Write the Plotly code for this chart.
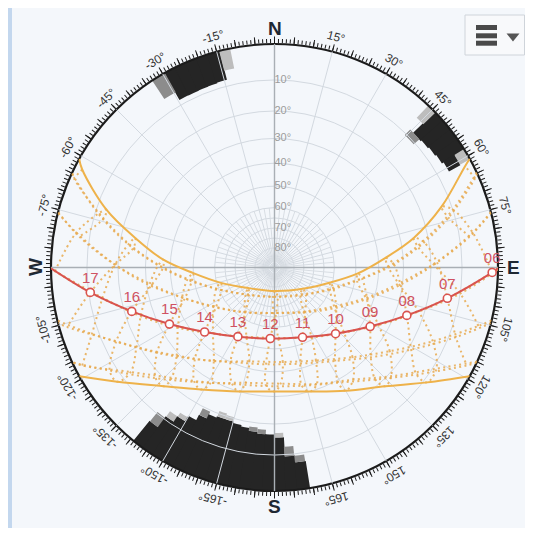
import math
import plotly.graph_objects as go

# ---------------- data ----------------
HOURS = [5, 6, 7, 8, 9, 10, 11, 12, 13, 14, 15, 16, 17, 18, 19]
MONTHS = ["Jan", "Feb", "Mar", "Apr", "May", "Jun", "Jul", "Aug", "Sep", "Oct", "Nov", "Dec"]

# sun azimuth (deg, N=0, E=90, W=-90) and elevation (deg) at each clock hour, 21st of each month
AZ_JAN = [None, None, None, 122, 133, 145, 160, 177, -166, -151, -137, -126, -117, None, None]
EL_JAN = [None, None, None, 9, 19, 27, 32, 35, 34, 29, 22, 13, 2, None, None]
AZ_FEB = [None, None, 106, 115, 126, 139, 156, 175, -165, -147, -132, -120, -110, None, None]
EL_FEB = [None, None, 3, 14, 25, 34, 41, 44, 43, 37, 29, 19, 8, None, None]
AZ_MAR = [None, None, 98, 107, 119, 133, 152, 177, -158, -137, -122, -110, -100, -91, None]
EL_MAR = [None, None, 10, 22, 34, 44, 51, 55, 53, 46, 36, 25, 14, 1, None]
AZ_APR = [None, 81, 89, 98, 109, 124, 147, -179, -146, -123, -108, -98, -89, -80, None]
EL_APR = [None, 7, 19, 31, 43, 54, 63, 67, 63, 54, 43, 31, 19, 6, None]
AZ_MAY = [66, 74, 82, 90, 99, 112, 136, -177, -133, -110, -98, -89, -81, -73, None]
EL_MAY = [1, 12, 24, 36, 49, 60, 71, 75, 70, 59, 47, 35, 23, 11, None]
AZ_JUN = [62, 70, 78, 85, 94, 105, 127, 178, -128, -106, -94, -86, -78, -71, -63]
EL_JUN = [2, 13, 25, 37, 49, 61, 72, 78, 73, 62, 50, 37, 25, 13, 2]
AZ_JUL = [None, 72, 80, 88, 97, 109, 131, 174, -137, -113, -99, -90, -82, -74, -66]
EL_JUL = [None, 10, 22, 34, 47, 59, 69, 75, 71, 61, 49, 37, 25, 13, 1]
AZ_AUG = [None, 80, 88, 97, 108, 122, 145, 178, -147, -124, -109, -98, -89, -81, None]
EL_AUG = [None, 6, 18, 31, 43, 54, 63, 67, 63, 55, 44, 32, 19, 7, None]
AZ_SEP = [None, 91.3, 100.1, 109.9, 121.7, 137.3, 158.1, -176.6, -152.1, -132.7, -118.3, -107.1, -97.7, None, None]
EL_SEP = [None, 1.5, 13.7, 25.6, 36.6, 46.1, 52.8, 54.7, 51.4, 43.9, 33.8, 22.5, 10.5, None, None]
AZ_OCT = [None, None, 111, 121, 133, 147, 165, -175, -155, -139, -126, -115, -106, None, None]
EL_OCT = [None, None, 8, 19, 29, 37, 42, 43, 40, 33, 24, 14, 2, None, None]
AZ_NOV = [None, None, 117, 127, 138, 151, 167, -176, -160, -145, -133, -122, None, None, None]
EL_NOV = [None, None, 2, 13, 22, 29, 33, 34, 32, 26, 18, 8, None, None, None]
AZ_DEC = [None, None, None, 127, 137, 150, 164, -180, -164, -149, -137, -126, None, None, None]
EL_DEC = [None, None, None, 9, 18, 25, 30, 32, 30, 25, 18, 8, None, None, None]

RISE_AZ = [114.9, 103.7, 90.5, 75.8, 65.1, 60.9, 64.8, 75.6, 90.2, 104.4, 115.2, 119.1]
SET_AZ = [-114.9, -103.7, -90.5, -75.8, -65.1, -60.9, -64.8, -75.6, -90.2, -104.4, -115.2, -119.1]

# horizon obstruction cells: azimuth centre, width, lower / upper elevation, shade
DARK, MID, LIGHT = "#252525", "#8c8c8c", "#bdbdbd"
CELL_AZ = [-27.9, -24.9, -21.9, -18.9, -15.9, -31.3, -12.9,
           47.5, 50.5, 53.5, 56.5, 59.5, 59.5, 44.8, 46.5,
           -142.5, -142.5, -145.5, -145.5, -148.5, -148.5, -151.5, -154.5, -154.5, -157.5,
           -160.5, -160.5, -163.5, -163.5, -166.5, -169.5, -172.5, -172.5, -175.5, -175.5,
           -178.5, 178.5, 178.5, 175.5, 175.5, 172.5, 172.5]
CELL_W = [3, 3, 3, 3, 3, 3.8, 2.9,
          3, 3, 3, 3, 3, 3, 2.6, 4,
          3, 3, 3, 3, 3, 3, 3, 3, 3, 3,
          3, 3, 3, 3, 3, 3, 3, 3, 3, 3,
          3, 3, 3, 3, 3, 3, 3]
CELL_EL0 = [0, 0, 0, 0, 0, 0, 0,
            0, 0, 0, 0, 0, 3, 0, 8.2,
            0, 7, 0, 11, 0, 13, 0, 0, 17, 0,
            0, 19, 0, 19, 0, 0, 0, 17, 0, 16.5,
            0, 0, 15.5, 0, 9.5, 0, 7.5]
CELL_EL1 = [8.5, 8.6, 8.5, 8.4, 8.2, 6.0, 5.5,
            8.3, 8.0, 7.6, 7.2, 3, 6.6, 4.5, 10.5,
            7, 10.5, 11, 13, 13, 14.5, 15, 17, 19.5, 18.5,
            19, 21, 19, 20.5, 18.5, 18, 17, 18.5, 16.5, 18,
            16.5, 15.5, 17, 9.5, 12.5, 7.5, 9.5]
CELL_C = [DARK] * 5 + [MID, LIGHT] + [DARK] * 4 + [LIGHT, DARK, LIGHT, MID] + \
         [DARK, MID, DARK, LIGHT, DARK, LIGHT, DARK, DARK, MID, DARK,
          DARK, LIGHT, DARK, LIGHT, DARK, DARK, DARK, MID, DARK, MID,
          DARK, DARK, LIGHT, DARK, MID, DARK, MID]

RING_ELS = [10, 20, 30, 40, 50, 60, 70, 80]
INNER_RING_ELS = [65, 75, 85]
ANG_LABELS = [-165, -150, -135, -120, -105, -75, -60, -45, -30, -15,
              15, 30, 45, 60, 75, 105, 120, 135, 150, 165]
CARDINALS = [(0, "N"), (90, "E"), (180, "S"), (-90, "W")]

AZ = dict(zip(MONTHS, [AZ_JAN, AZ_FEB, AZ_MAR, AZ_APR, AZ_MAY, AZ_JUN,
                       AZ_JUL, AZ_AUG, AZ_SEP, AZ_OCT, AZ_NOV, AZ_DEC]))
EL = dict(zip(MONTHS, [EL_JAN, EL_FEB, EL_MAR, EL_APR, EL_MAY, EL_JUN,
                       EL_JUL, EL_AUG, EL_SEP, EL_OCT, EL_NOV, EL_DEC]))

# ---------------- geometry (page has an 8px body margin) ----------------
OFF = 8
W, H = 533 - 2 * OFF, 536 - 2 * OFF
CX, CY, R = 274.5 - OFF, 267.5 - OFF, 223.5


def rs(el):
    """stereographic projection of elevation onto the radial axis (horizon = 1)"""
    return math.tan(math.radians((90 - el) / 2))


def day_path(i, m):
    az = [RISE_AZ[i]] + [a for a in AZ[m] if a is not None] + [SET_AZ[i]]
    el = [0] + [e for e in EL[m] if e is not None] + [0]
    return az, [rs(e) for e in el]


fig = go.Figure()

# obstructions (dark cells slightly overlapped to avoid seams)
fig.add_trace(go.Barpolar(
    theta=CELL_AZ,
    width=[w + 0.35 if c == DARK else w for w, c in zip(CELL_W, CELL_C)],
    base=[rs(e1) for e1 in CELL_EL1],
    r=[rs(e0) - rs(e1) for e0, e1 in zip(CELL_EL0, CELL_EL1)],
    marker=dict(color=CELL_C, line=dict(width=0)),
    subplot="polar", hoverinfo="skip", showlegend=False))

# inner fine grid (5 deg spokes near zenith)
sp_t, sp_r = [], []
for t in range(0, 360, 5):
    if t % 15 == 0:
        continue
    sp_t += [t, t, None]
    sp_r += [rs(87), rs(60), None]
fig.add_trace(go.Scatterpolar(theta=sp_t, r=sp_r, mode="lines", connectgaps=False,
                              line=dict(color="#d8dde3", width=1), subplot="polar2",
                              hoverinfo="skip", showlegend=False))
# N-S / E-W axes
for th in ([0, 0, 180], [90, 0, -90]):
    fig.add_trace(go.Scatterpolar(theta=th, r=[1, 0, 1], mode="lines",
                                  line=dict(color="#a9afb5", width=1.4), subplot="polar2",
                                  hoverinfo="skip", showlegend=False))

DOT = dict(color="rgba(232,170,80,0.85)", width=2, dash="2px,3.4px", shape="spline")
# monthly day paths (dotted)
for i, m in enumerate(MONTHS):
    if m in ("Jun", "Dec"):
        continue
    az, rr = day_path(i, m)
    fig.add_trace(go.Scatterpolar(theta=az, r=rr, mode="lines", line=DOT,
                                  subplot="polar2", hoverinfo="skip", showlegend=False))
# hourly analemmas (dotted)
for k, h in enumerate(HOURS):
    pts = [(AZ[m][k], EL[m][k]) for m in MONTHS]
    n = len(pts)
    if all(p[0] is not None for p in pts):
        seq = pts + [pts[0]]
    else:
        start = next(j for j in range(n) if pts[j][0] is not None and pts[j - 1][0] is None)
        seq = [pts[(start + j) % n] for j in range(n)]
    fig.add_trace(go.Scatterpolar(
        theta=[p[0] for p in seq], r=[rs(p[1]) if p[1] is not None else None for p in seq],
        mode="lines", line=DOT, connectgaps=False,
        subplot="polar2", hoverinfo="skip", showlegend=False))
# solstices (solid)
for m in ("Jun", "Dec"):
    az, rr = day_path(MONTHS.index(m), m)
    fig.add_trace(go.Scatterpolar(theta=az, r=rr, mode="lines",
                                  line=dict(color="#eeb24a", width=2, shape="spline"),
                                  subplot="polar2", hoverinfo="skip", showlegend=False))
# today's path (red)
az, rr = day_path(MONTHS.index("Sep"), "Sep")
fig.add_trace(go.Scatterpolar(theta=az, r=rr, mode="lines",
                              line=dict(color="#d9534f", width=2, shape="spline"),
                              subplot="polar2", hoverinfo="skip", showlegend=False))
mk_t, mk_r, mk_txt = [], [], []
for k, h in enumerate(HOURS):
    if AZ_SEP[k] is not None:
        mk_t.append(AZ_SEP[k]); mk_r.append(rs(EL_SEP[k])); mk_txt.append("%02d" % h)
fig.add_trace(go.Scatterpolar(theta=mk_t, r=mk_r, mode="markers+text", text=mk_txt,
                              textposition="top center",
                              textfont=dict(color="#cf5262", size=15, family="Liberation Sans, Arial"),
                              marker=dict(size=8, color="white", line=dict(color="#d9534f", width=1.6)),
                              subplot="polar2", hoverinfo="skip", showlegend=False))
# elevation labels
fig.add_trace(go.Scatterpolar(theta=[0] * len(RING_ELS), r=[rs(e) for e in RING_ELS], mode="text",
                              text=["%d°" % e for e in RING_ELS], textposition="middle right",
                              textfont=dict(color="#9c9c9c", size=11, family="Liberation Sans, Arial"),
                              subplot="polar2", hoverinfo="skip", showlegend=False))
fig.add_trace(go.Scatterpolar(theta=[0], r=[0], mode="markers", marker=dict(opacity=0),
                              subplot="polar3", hoverinfo="skip", showlegend=False))

dom = dict(x=[(CX - R) / W, (CX + R) / W], y=[1 - (CY + R) / H, 1 - (CY - R) / H])
hid_r = dict(range=[0, 1], showgrid=False, showline=False, showticklabels=False, ticks="")
fig.update_layout(
    width=W, height=H, margin=dict(l=0, r=0, t=0, b=0), template="none",
    paper_bgcolor="#f4f7fb", showlegend=False,
    polar=dict(domain=dom, bgcolor="#f4f7fb",
               angularaxis=dict(rotation=90, direction="clockwise", tickvals=list(range(0, 360, 1)),
                                ticks="outside", ticklen=4, tickwidth=1, tickcolor="#1b1b1b",
                                showticklabels=False, showgrid=False, showline=True,
                                linecolor="#1b1b1b", linewidth=2.2, layer="above traces"),
               radialaxis=hid_r),
    polar2=dict(domain=dom, bgcolor="rgba(0,0,0,0)",
                angularaxis=dict(rotation=90, direction="clockwise", tickvals=list(range(0, 360, 15)),
                                 ticks="", showticklabels=False, showgrid=True, gridcolor="#d3d9e0",
                                 gridwidth=1, showline=False),
                radialaxis=dict(range=[0, 1], tickvals=[rs(e) for e in RING_ELS + INNER_RING_ELS],
                                showgrid=True, gridcolor="#d3d9e0", gridwidth=1, showline=False,
                                showticklabels=False, ticks="")),
    polar3=dict(domain=dom, bgcolor="rgba(0,0,0,0)",
                angularaxis=dict(rotation=90, direction="clockwise", tickvals=list(range(0, 360, 5)),
                                 ticks="outside", ticklen=7, tickwidth=1.2, tickcolor="#1b1b1b",
                                 showticklabels=False, showgrid=False, showline=False),
                radialaxis=hid_r),
)

RL = 239
ann = []
for a in ANG_LABELS:
    ann.append(dict(x=(CX + RL * math.sin(math.radians(a))) / W,
                    y=1 - (CY - RL * math.cos(math.radians(a))) / H,
                    xref="paper", yref="paper", text="%d°" % a, showarrow=False,
                    textangle=a, xanchor="center", yanchor="middle",
                    font=dict(size=12, color="#333333", family="Liberation Sans, Arial")))
for a, t in CARDINALS:
    ann.append(dict(x=(CX + RL * math.sin(math.radians(a))) / W,
                    y=1 - (CY - RL * math.cos(math.radians(a))) / H,
                    xref="paper", yref="paper", text="<b>%s</b>" % t, showarrow=False,
                    textangle=-90 if t == "W" else 0, xanchor="center", yanchor="middle",
                    font=dict(size=19, color="#1e2833", family="Liberation Sans, Arial")))
fig.update_layout(annotations=ann)


def px(x, y):
    return (x - OFF) / W, 1 - (y - OFF) / H


shapes = [dict(type="rect", xref="paper", yref="paper", x0=0, x1=4 / W, y0=0, y1=1,
               fillcolor="#c3d7ee", line=dict(width=0))]
x0, y0 = px(465, 55); x1, y1 = px(524.5, 15)
shapes.append(dict(type="rect", xref="paper", yref="paper", x0=x0, x1=x1, y0=y0, y1=y1,
                   fillcolor="#f8f9fb", line=dict(color="#cfd4da", width=1)))
for yy in (25, 33.3, 40.7):
    a0, b0 = px(476, yy + 5); a1, b1 = px(497, yy)
    shapes.append(dict(type="rect", xref="paper", yref="paper", x0=a0, x1=a1, y0=b0, y1=b1,
                       fillcolor="#4a4a4a", line=dict(width=0)))
t1 = px(506.5, 33.5); t2 = px(519.5, 33.5); t3 = px(513, 41.5)
shapes.append(dict(type="path", xref="paper", yref="paper",
                   path="M %f %f L %f %f L %f %f Z" % (t1[0], t1[1], t2[0], t2[1], t3[0], t3[1]),
                   fillcolor="#555555", line=dict(width=0)))
fig.update_layout(shapes=shapes)

fig.write_html("out.html")
